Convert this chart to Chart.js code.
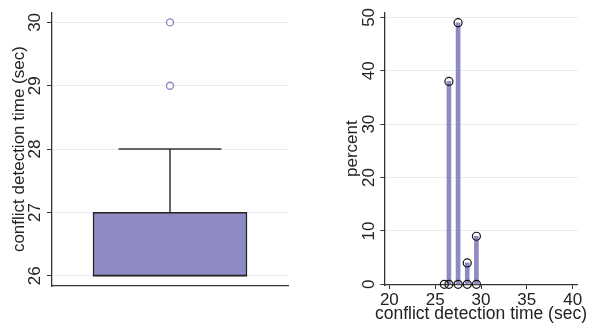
<!DOCTYPE html>
<html>
<head>
<meta charset="utf-8">
<script src="https://cdn.jsdelivr.net/npm/chart.js@4/dist/chart.umd.min.js"></script>
<style>
  html, body { margin: 0; padding: 0; background: #ffffff; }
  #wrap { position: relative; width: 594px; height: 329px; }
  canvas { position: absolute; top: 0; }
  #box { left: 0; }
  #hist { left: 300px; }
</style>
</head>
<body>
<div id="wrap">
  <canvas id="box" width="300" height="329"></canvas>
  <canvas id="hist" width="294" height="329"></canvas>
</div>
<script>
// ---- data ----
const axisTitle = 'conflict detection time (sec)';
const percentTitle = 'percent';
// box plot summary
const boxLower = 26;      // lower whisker / min
const boxQ1 = 26;
const boxMedian = 26;
const boxQ3 = 27;
const boxUpper = 28;      // upper adjacent value
const boxOutliers = [29, 30];
const boxTicks = [26, 27, 28, 29, 30];
// histogram (percent per bin)
const binMids = [26.5, 27.5, 28.5, 29.5];
const binPercents = [38, 49, 4, 9];
const zeroMarks = [26, 26.5, 27.5, 28.5, 29.5];
const histXTicks = [20, 25, 30, 35, 40];
const histYTicks = [0, 10, 20, 30, 40, 50];

// ---- styles ----
const FONT = { family: '"Liberation Sans", Arial, sans-serif', size: 17 };
const INK = '#222222';
const AXIS = '#333333';
const GRID = '#e4edf0';
const FILL = '#8e8ac2';
const OUTLIER = '#8784c4';

Chart.defaults.font.family = FONT.family;
Chart.defaults.font.size = FONT.size;
Chart.defaults.color = INK;
Chart.defaults.animation = false;

const fixTicks = arr => scale => { scale.ticks = arr.map(v => ({ value: v })); };

// draws an x-axis title centred under the plot area without width squeezing
const freeXTitle = {
  id: 'freeXTitle',
  afterDraw(chart, args, opts) {
    if (!opts || !opts.text) return;
    const ctx = chart.ctx;
    const ca = chart.chartArea;
    ctx.save();
    ctx.font = opts.size + 'px ' + FONT.family;
    ctx.fillStyle = INK;
    ctx.textAlign = 'center';
    ctx.textBaseline = 'middle';
    ctx.fillText(opts.text, (ca.left + ca.right) / 2, ca.bottom + opts.offset);
    ctx.restore();
  }
};

// ---- left: box plot ----
const capHalf = 0.436;
const boxHalf = 0.653;
new Chart(document.getElementById('box'), {
  type: 'bar',
  data: {
    datasets: [
      {
        type: 'line',
        data: boxOutliers.map(v => ({ x: 0, y: v })),
        showLine: false,
        pointRadius: 3.5,
        pointBorderWidth: 1.3,
        pointBorderColor: OUTLIER,
        pointBackgroundColor: '#ffffff',
        order: 1
      },
      {
        type: 'line',
        data: [{ x: 0, y: boxQ3 }, { x: 0, y: boxUpper }],
        borderColor: AXIS, borderWidth: 1.5, pointRadius: 0, order: 2
      },
      {
        type: 'line',
        data: [{ x: -capHalf, y: boxUpper }, { x: capHalf, y: boxUpper }],
        borderColor: AXIS, borderWidth: 1.5, pointRadius: 0, order: 2
      },
      {
        type: 'line',
        data: [{ x: -boxHalf, y: boxMedian }, { x: boxHalf, y: boxMedian }],
        borderColor: INK, borderWidth: 1.5, pointRadius: 0, order: 2, clip: false
      },
      {
        type: 'bar',
        data: [{ x: 0, y: [boxQ1, boxQ3] }],
        backgroundColor: FILL,
        borderColor: INK,
        borderWidth: 1.5,
        borderSkipped: false,
        barThickness: 154,
        order: 3
      }
    ]
  },
  options: {
    responsive: false,
    devicePixelRatio: 1,
    layout: { padding: { left: 0, right: 12, top: 10, bottom: 0 } },
    plugins: { legend: { display: false }, tooltip: { enabled: false } },
    scales: {
      x: {
        type: 'linear', min: -1, max: 1, offset: false,
        ticks: { display: false },
        grid: { drawOnChartArea: false, drawTicks: false, offset: false },
        border: { display: true, color: AXIS, width: 1.3 },
        afterFit: s => { s.height = 43; }
      },
      y: {
        type: 'linear', min: 25.839, max: 30.161,
        afterBuildTicks: fixTicks(boxTicks),
        ticks: { minRotation: 90, maxRotation: 90, crossAlign: 'center', padding: 2, color: INK },
        grid: { color: GRID, lineWidth: 1, tickColor: AXIS, tickLength: 5 },
        border: { display: true, color: AXIS, width: 1.3 },
        title: { display: true, text: axisTitle, color: INK, padding: { top: 9, bottom: 0 } },
        afterFit: s => { s.width = 52; }
      }
    }
  }
});

// ---- right: histogram spikes ----
new Chart(document.getElementById('hist'), {
  type: 'bar',
  plugins: [freeXTitle],
  data: {
    datasets: [
      {
        type: 'line',
        data: binMids.map((x, i) => ({ x: x, y: binPercents[i] })).concat(zeroMarks.map(x => ({ x: x, y: 0 }))),
        showLine: false,
        pointRadius: 4,
        pointBorderWidth: 1.2,
        pointBorderColor: '#111111',
        pointBackgroundColor: 'rgba(255,255,255,0)',
        clip: false,
        order: 1
      },
      {
        type: 'bar',
        data: binMids.map((x, i) => ({ x: x, y: binPercents[i] })),
        backgroundColor: FILL,
        borderWidth: 0,
        barThickness: 4,
        order: 2
      }
    ]
  },
  options: {
    responsive: false,
    devicePixelRatio: 1,
    layout: { padding: { left: 0, right: 16.3, top: 6, bottom: 0 } },
    plugins: {
      legend: { display: false }, tooltip: { enabled: false },
      freeXTitle: { text: axisTitle, size: 17.5, offset: 29 }
    },
    scales: {
      x: {
        type: 'linear', min: 19.45, max: 40.55, offset: false,
        afterBuildTicks: fixTicks(histXTicks),
        ticks: { maxRotation: 0, minRotation: 0, padding: 1, color: INK },
        grid: { drawOnChartArea: false, tickColor: AXIS, tickLength: 4, offset: false },
        border: { display: true, color: AXIS, width: 1.3 },
        afterFit: s => { s.height = 44; }
      },
      y: {
        type: 'linear', min: -0.13, max: 50.97,
        afterBuildTicks: fixTicks(histYTicks),
        ticks: { minRotation: 90, maxRotation: 90, crossAlign: 'center', padding: 2, color: INK },
        grid: { color: GRID, lineWidth: 1, tickColor: AXIS, tickLength: 4 },
        border: { display: true, color: AXIS, width: 1.3 },
        title: { display: true, text: percentTitle, color: INK, padding: { top: 42, bottom: 0 } },
        afterFit: s => { s.width = 84.3; }
      }
    }
  }
});
</script>
</body>
</html>
